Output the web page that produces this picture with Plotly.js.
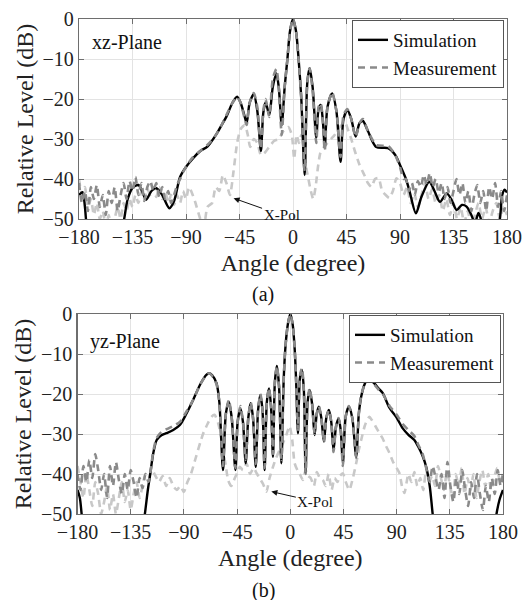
<!DOCTYPE html>
<html>
<head>
<meta charset="utf-8">
<script src="https://cdn.plot.ly/plotly-3.0.1.min.js"></script>
<style>html,body{margin:0;padding:0;background:#fff;}#chart{width:528px;height:600px;}</style>
</head>
<body>
<div id="chart"></div>
<script>
// ---------- xz-Plane (a) ----------
var xzSimAngle = [-180,-177,-175,-173,-165,-145,-142,-139,-135,-130,-127,-123.5,-119,-115,-110,-104,-100,-95,-90,-84,-78,-72,-64,-60,-56,-51,-47,-44,-41,-39,-36.5,-33,-30,-27,-25,-23,-20,-17,-14,-12,-9.5,-7,-4.7,-2.5,0,2.5,4.7,7,9.8,12,14,16.5,19.6,21.5,23.3,25,26.7,29,32.9,36.5,40,42.5,45.7,49,52.7,56,58.8,63,70,80,86,90,95,98,103.4,108,114.6,119,123.6,129.3,133,137.7,142,146,150,153,156,159,163,170,174,176,178,180];
var xzSimLevel = [-44,-43.3,-47,-52,-56,-55,-50,-45,-42.2,-41.5,-43,-45.2,-43,-42.3,-44,-47.3,-45.5,-39.5,-37,-34.8,-33,-31.9,-28.6,-26.5,-24.4,-21,-19.4,-21,-24,-26,-21,-18.8,-23,-33,-23.5,-20.8,-24,-17,-13.6,-17,-26.5,-17,-10,-3,0,-3,-10,-20,-39,-16,-12.3,-17,-29.8,-22.5,-21.5,-25,-32.3,-22,-18.6,-23,-35.7,-25,-22.75,-25,-29.4,-26,-25.5,-28,-32,-32.3,-34,-36.5,-40,-43,-48.6,-44.5,-40.7,-43,-45.7,-43.6,-45,-47.75,-46.5,-46.9,-49,-51,-48.5,-51,-55,-55,-50,-44,-42.7,-43.4];

var xzMeasAngle = [-180,-177.5,-175,-172.5,-170,-167.5,-165,-162.5,-160,-157.5,-155,-152.5,-150,-147.5,-145,-142.5,-140,-137.5,-135,-132.5,-130,-127.5,-125,-122.5,-120,-117.5,-115,-112.5,-110,-107.5,-105,-102.5,-100,-97.5,-95,-92,-88,-84,-78,-72,-66,-60,-56,-51,-47,-44,-41,-39,-36.5,-33,-30,-27,-25,-23,-20,-17,-14,-12,-9.5,-7,-4.7,-2.5,0,2.5,4.7,7,9.8,12,14,16.5,19.6,21.5,23.3,25,26.7,29,32.9,36.5,40,42.5,45.7,49,52.7,56,58.8,63,70,80,86,90,93,95,97.5,100,102.5,105,107.5,110,112.5,115,117.5,120,122.5,125,127.5,130,132.5,135,137.5,140,142.5,145,147.5,150,152.5,155,157.5,160,162.5,165,167.5,170,172.5,175,177.5,180];
var xzMeasLevel = [-41,-46,-43,-48,-42,-45,-41.5,-47,-44,-49,-43,-46,-42,-48,-44,-41,-45,-40.5,-43,-39.5,-44,-41,-45.5,-42,-40.5,-43,-41,-44.5,-42,-45,-43,-46,-44,-41.5,-40,-38,-36,-34.5,-33,-31.5,-29.5,-26.5,-24,-21,-19.5,-21,-24.5,-26.5,-21,-18.5,-22,-32.5,-23,-20,-24.5,-15,-12.5,-17,-29,-17,-10,-3,0,-3,-10,-20,-38,-16,-12.3,-18,-31,-22,-21,-25,-33,-22,-18.3,-23,-34.5,-24,-22.5,-25,-29.5,-26,-25,-28,-31.5,-31.8,-34,-37,-40,-40,-43,-41,-44,-40.5,-42,-39,-41.5,-38.5,-42,-40,-43.5,-41,-45,-42,-46,-43,-40,-44,-41,-46,-43,-48,-44,-41.5,-46,-43,-48,-42,-45,-41,-47,-43,-48,-44];

var xzXpolAngle = [-180,-177.5,-175,-172.5,-170,-167.5,-165,-162.5,-160,-157.5,-155,-152.5,-150,-147.5,-145,-142.5,-140,-137.5,-135,-132.5,-130,-127.5,-125,-122.5,-120,-117.5,-115,-112.5,-110,-107.5,-105,-102.5,-100,-97.5,-95,-92.5,-90,-87.5,-85,-82,-78,-75,-72,-68,-65,-62,-59,-56,-53,-50,-47,-44,-40.5,-38,-36,-33,-30,-27,-24,-20,-16,-12,-8,-4,-1,1,3,5,7,9,11,13,15,17,19,21,23,26,29,32,35,38,41,44,46,49,52,56,60,63,66,69,72,75,78,81,84,87,90,93,96,99,102,105,108,111,114,117,120,123,126,129,132,135,138,141,144,147,150,153,156,159,162,165,168,171,174,177,180];
var xzXpolLevel = [-40,-44,-42,-47,-45,-49,-46,-50,-48,-52,-49,-53,-50,-47,-50,-46,-48,-45,-47,-44,-46,-43,-45,-42.5,-44,-42,-44.5,-42,-45,-43,-46,-44,-46.5,-44,-46,-43,-45,-42,-43.5,-46,-50,-52,-47,-46,-42,-43,-39,-41,-44,-38,-31,-27.5,-26.5,-29,-32,-30,-31,-34,-33.5,-32,-30.5,-30,-28,-27,-29,-35,-29,-31,-29,-30,-37,-40,-43,-45,-42,-37,-33.5,-32,-31,-30,-29,-27.5,-26.5,-26,-27.5,-30,-33,-36.5,-39,-41,-42,-40,-39.8,-43,-44,-44.75,-43,-39.8,-41,-44,-42,-46,-43.5,-47,-44,-41,-45,-42.5,-46,-44,-48,-45,-49,-46,-50,-47,-51,-48,-52,-49,-46,-50,-47,-51,-48,-46,-50,-47,-49];

// ---------- yz-Plane (b) ----------
var yzSimAngle = [-180,-178,-176.5,-174,-150,-126,-123,-120.5,-118.8,-116,-113,-109,-104.7,-99,-93.4,-88,-82.2,-76,-71,-68.5,-66,-62.4,-60,-56.9,-54.5,-52,-49.5,-46.4,-44.5,-42.2,-40,-37.7,-35.5,-33.5,-31.5,-29.2,-27.2,-25.3,-23.5,-21.7,-19.8,-18,-16.3,-14.6,-13,-11.3,-9.5,-7.5,-5.5,-4,-2,0,2,3.8,5,6.5,8.2,9.9,11.5,13,14.7,16.4,18.5,20.6,22.4,24.2,26.3,28.5,30.5,32.7,34.7,36.6,38.8,40.9,42.7,44.5,47,49.6,52.5,55.8,58,60,63,66,70,75,78.3,84,89.6,95.2,100,105,108,112,115,118,120.5,123,150,172,174.5,177,180];
var yzSimLevel = [-44,-46,-50,-56,-57,-56,-50,-44,-40.7,-35,-31.5,-30.3,-29.8,-29,-27.75,-25,-21.5,-17.5,-15.2,-14.8,-15.3,-17.3,-22,-39,-25,-21.9,-26,-39,-27,-23.6,-27,-37.3,-26,-22.3,-26,-38.2,-24,-20.25,-24,-39,-22,-18.6,-23,-35.7,-17,-13,-18,-37.3,-16,-8,-2.5,0,-2.5,-9,-17,-29.8,-16,-14,-19,-39.8,-22,-19,-22.5,-30.25,-25,-23.2,-26,-31.9,-26,-24,-27,-34,-28,-26.1,-29,-37.3,-25.5,-23.2,-26,-35.7,-25,-20.7,-17.5,-16.1,-17,-18.7,-19.8,-23.5,-25.7,-28.6,-30.2,-31.5,-33,-35.5,-38.2,-43,-50,-56,-57,-56,-50,-46.5,-44];

var yzMeasAngle = [-180,-177.5,-175,-172.5,-170,-167.5,-165,-162.5,-160,-157.5,-155,-152.5,-150,-147.5,-145,-142.5,-140,-137.5,-135,-132.5,-130,-127.5,-125,-122.5,-120,-118,-116,-113,-109,-104.7,-99,-93.4,-88,-82.2,-76,-71,-68.5,-66,-62.4,-60,-56.9,-54.5,-52,-49.5,-46.4,-44.5,-42.2,-40,-37.7,-35.5,-33.5,-31.5,-29.2,-27.2,-25.3,-23.5,-21.7,-19.8,-18,-16.3,-14.6,-13,-11.3,-9.5,-7.5,-5.5,-4,-2,0,2,3.8,5,6.5,8.2,9.9,11.5,13,14.7,16.4,18.5,20.6,22.4,24.2,26.3,28.5,30.5,32.7,34.7,36.6,38.8,40.9,42.7,44.5,47,49.6,52.5,55.8,58,60,63,66,70,75,78.3,84,89.6,95.2,100,105,108,112,115,117,118,120.5,123,125.5,128,130.5,133,135.5,138,140.5,143,145.5,148,150.5,153,155.5,158,160.5,163,165.5,168,170.5,173,175.5,178,180];
var yzMeasLevel = [-40,-44,-38,-42,-36.5,-41,-35,-39,-44,-40,-46,-38,-43,-37,-41.5,-45,-40,-44,-39,-42,-46,-41,-43.5,-40,-42,-39,-34.5,-31,-29.5,-28.8,-28,-27,-24.5,-21.5,-17.5,-15.3,-14.8,-15.5,-17.5,-22,-38,-25,-21.5,-26,-38.5,-27,-23,-27,-36.5,-26,-22,-26,-37.5,-24,-20,-24,-38.5,-22,-18.5,-23,-35,-17,-13,-18,-36.5,-16,-8,-2.5,0,-2.5,-9,-17,-29,-15.5,-13.5,-19,-40,-22,-18.5,-22.5,-30,-25,-23,-26,-32,-26,-24,-27,-34.5,-28,-26,-29,-38,-25.5,-23,-26,-36,-25,-20.5,-17.5,-16.3,-17.3,-19,-20,-23,-25,-27.5,-29,-30.5,-32.5,-35,-38.5,-41,-42,-38,-41,-44,-40,-46,-37,-43,-47,-41,-45,-39,-44,-48,-42,-46,-40,-45,-49,-43,-47,-41,-45,-39,-43,-40];

var yzXpolAngle = [-180,-177.5,-175,-172.5,-170,-167.5,-165,-162.5,-160,-157.5,-155,-152.5,-150,-147.5,-145,-142.5,-140,-137.5,-135,-132.5,-130,-127.5,-125,-122.5,-120,-117,-114,-111,-108,-105,-102,-99,-96,-93,-90,-87,-84,-80,-76,-73.8,-70,-66.7,-64,-61,-59,-56.9,-54.5,-52.6,-50,-46.9,-44.5,-42.7,-40,-37,-34,-31,-28.5,-26,-23,-20.2,-17.5,-14.6,-12,-9,-6.2,-3,-0.6,1.5,3.7,6,8,10.7,13,15,17.3,20,22.5,25,27.6,30,32.5,35,37.5,40,42,44.5,47,50,53,56,58,60,63,65,67,69,72,75.5,78,81,84,87,90,92.4,94.5,96.6,98.5,100,102.5,105,107.5,110,112.5,115,117.5,120,122.5,125,127.5,130,132.5,135,137.5,140,142.5,145,147.5,150,152.5,155,157.5,160,162.5,165,167.5,170,172.5,175,177.5,180];
var yzXpolLevel = [-38,-42,-46,-40,-44,-48,-42,-45,-50,-47,-43,-49,-45,-50,-46,-42,-47,-44,-49,-45,-42,-46,-43,-40,-41,-39,-40.5,-42,-40.5,-43,-41,-43,-44,-43,-44.5,-42,-40,-36,-32,-30,-27.5,-25.7,-25.2,-27.3,-30,-34,-38,-41.5,-43,-41,-39.5,-38.2,-39,-37.3,-40,-38.5,-39.8,-41,-42.5,-44.4,-41,-38.2,-36,-34,-32.3,-30,-28,-31,-37.3,-39,-40,-41.5,-39,-40.5,-41,-43,-39.5,-41,-41.5,-43,-40,-44,-41,-42,-40.5,-39.8,-42,-44,-41,-37,-34,-31.5,-28,-26.5,-25.7,-26.5,-28,-29.8,-31,-33,-34.8,-37,-38.5,-39.8,-43,-44.75,-42,-40,-42,-39.5,-43,-41,-44,-39,-42,-40.5,-43,-38,-41,-44,-39.5,-42.5,-46,-40,-43,-38.5,-45,-41,-44,-40,-46,-42,-39,-43,-40,-44,-41,-38.5,-42,-40];

var xTickVals = [-180,-135,-90,-45,0,45,90,135,180];
var yTickVals = [0,-10,-20,-30,-40,-50];

var FONT = 'Liberation Serif, Times New Roman, serif';
var simColor = '#000000', measColor = '#8a8a8a', xpolColor = '#c8c8c8';

function simTrace(x, y, xa, ya, leg, show) {
  return {x: x, y: y, xaxis: xa, yaxis: ya, type: 'scatter', mode: 'lines', name: 'Simulation',
    line: {color: simColor, width: 2.4, shape: 'spline', smoothing: 0.8}, legend: leg, showlegend: show};
}
function measTrace(x, y, xa, ya, leg, show) {
  return {x: x, y: y, xaxis: xa, yaxis: ya, type: 'scatter', mode: 'lines', name: 'Measurement',
    line: {color: measColor, width: 2.6, dash: '7px,5px', shape: 'spline', smoothing: 0.6}, legend: leg, showlegend: show};
}
function xpolTrace(x, y, xa, ya) {
  return {x: x, y: y, xaxis: xa, yaxis: ya, type: 'scatter', mode: 'lines', name: 'X-Pol',
    line: {color: xpolColor, width: 2.6, dash: '7px,5px', shape: 'spline', smoothing: 0.6}, showlegend: false, hoverinfo: 'skip'};
}

var data = [
  xpolTrace(xzXpolAngle, xzXpolLevel, 'x', 'y'),
  simTrace(xzSimAngle, xzSimLevel, 'x', 'y', 'legend', true),
  measTrace(xzMeasAngle, xzMeasLevel, 'x', 'y', 'legend', true),
  xpolTrace(yzXpolAngle, yzXpolLevel, 'x2', 'y2'),
  simTrace(yzSimAngle, yzSimLevel, 'x2', 'y2', 'legend2', true),
  measTrace(yzMeasAngle, yzMeasLevel, 'x2', 'y2', 'legend2', true)
];

function xAxis(domain, anchor) {
  return {domain: domain, anchor: anchor, range: [-180, 180], tickvals: xTickVals,
    showgrid: true, gridcolor: '#e3e3e3', gridwidth: 1, zeroline: false,
    showline: true, linecolor: '#6e6e6e', linewidth: 1.2, mirror: 'ticks',
    ticks: 'inside', ticklen: 5, tickcolor: '#6e6e6e',
    tickfont: {family: FONT, size: 20, color: '#222'},
    title: {text: 'Angle (degree)', font: {family: FONT, size: 24, color: '#222'}, standoff: 7}};
}
function yAxis(domain, anchor) {
  return {domain: domain, anchor: anchor, range: [-50, 0], tickvals: yTickVals,
    showgrid: true, gridcolor: '#e3e3e3', gridwidth: 1, zeroline: false,
    showline: true, linecolor: '#6e6e6e', linewidth: 1.2, mirror: 'ticks',
    ticks: 'inside', ticklen: 5, tickcolor: '#6e6e6e',
    tickfont: {family: FONT, size: 20, color: '#222'},
    title: {text: 'Relative Level (dB)', font: {family: FONT, size: 24, color: '#222'}, standoff: 2}};
}

var legendStyle = function (x, y) {
  return {x: x, y: y, xanchor: 'right', yanchor: 'top', bgcolor: '#ffffff',
    bordercolor: '#555', borderwidth: 1, font: {family: FONT, size: 19, color: '#111'},
    itemwidth: 30, tracegroupgap: 0, traceorder: 'normal'};
};

var layout = {
  width: 528, height: 600, margin: {l: 0, r: 0, t: 0, b: 0},
  paper_bgcolor: '#ffffff', plot_bgcolor: '#ffffff',
  font: {family: FONT, color: '#222'},
  xaxis: xAxis([79/528, 507/528], 'y'),
  yaxis: yAxis([1 - 219/600, 1 - 19/600], 'x'),
  xaxis2: xAxis([77.5/528, 503/528], 'y2'),
  yaxis2: yAxis([1 - 514/600, 1 - 314/600], 'x2'),
  legend: legendStyle(504/528, 1 - 20/600),
  legend2: legendStyle(501/528, 1 - 315/600),
  annotations: [
    {xref: 'paper', yref: 'paper', x: 90/528, y: 1 - 42/600, xanchor: 'left', yanchor: 'middle',
     text: 'xz-Plane', showarrow: false, font: {family: FONT, size: 20, color: '#111'}},
    {xref: 'paper', yref: 'paper', x: 88/528, y: 1 - 341/600, xanchor: 'left', yanchor: 'middle',
     text: 'yz-Plane', showarrow: false, font: {family: FONT, size: 20, color: '#111'}},
    {xref: 'x', yref: 'y', x: -50, y: -44.8, text: 'X-Pol', showarrow: true, ax: 48, ay: 17,
     arrowhead: 2, arrowsize: 1.2, arrowwidth: 1, arrowcolor: '#111', font: {family: FONT, size: 15, color: '#111'}},
    {xref: 'x2', yref: 'y2', x: -16, y: -44.4, text: 'X-Pol', showarrow: true, ax: 44, ay: 10,
     arrowhead: 2, arrowsize: 1.2, arrowwidth: 1, arrowcolor: '#111', font: {family: FONT, size: 15, color: '#111'}},
    {xref: 'paper', yref: 'paper', x: 263/528, y: 1 - 294/600, xanchor: 'center', yanchor: 'middle',
     text: '(a)', showarrow: false, font: {family: FONT, size: 20, color: '#111'}},
    {xref: 'paper', yref: 'paper', x: 263/528, y: 1 - 590/600, xanchor: 'center', yanchor: 'middle',
     text: '(b)', showarrow: false, font: {family: FONT, size: 20, color: '#111'}}
  ]
};

Plotly.newPlot('chart', data, layout, {staticPlot: true, displayModeBar: false});
</script>
</body>
</html>
